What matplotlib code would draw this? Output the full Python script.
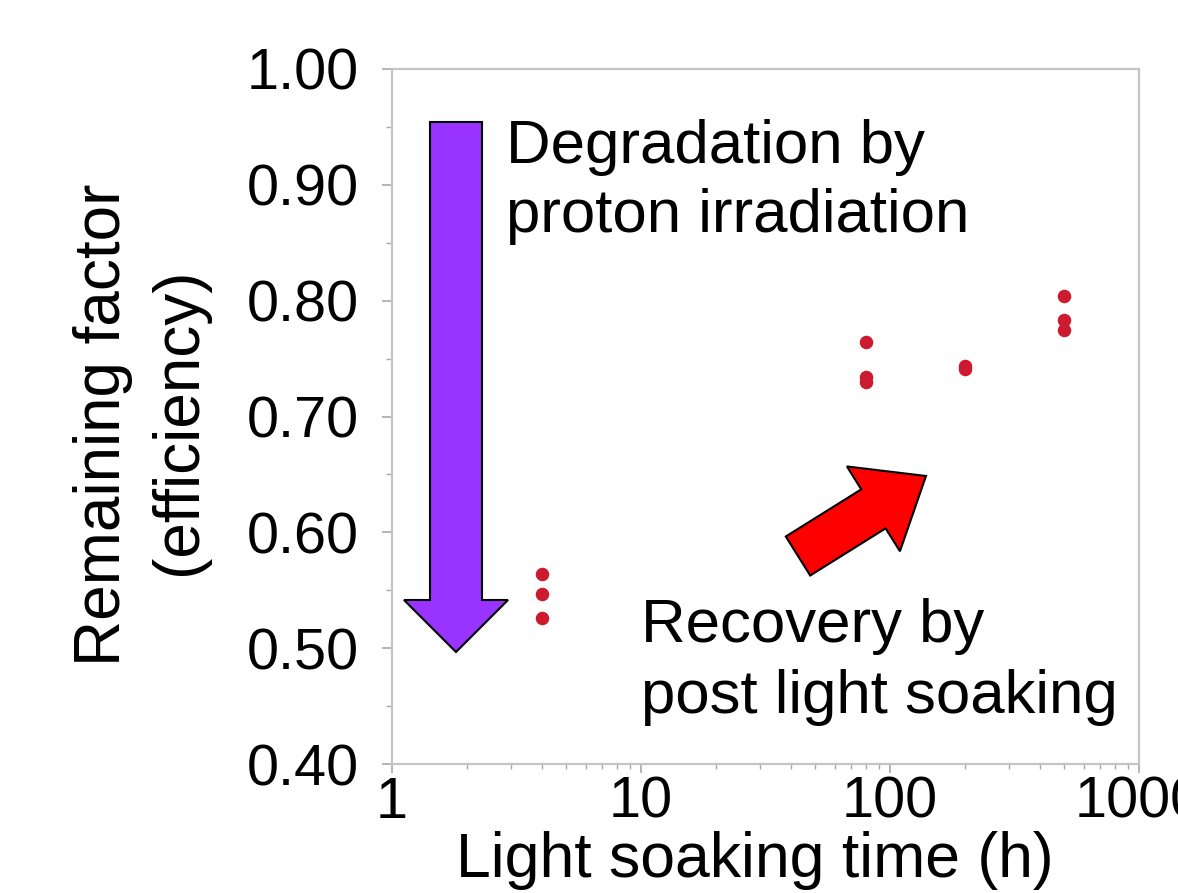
import matplotlib
matplotlib.use("Agg")
import matplotlib.pyplot as plt
from matplotlib.patches import FancyArrow, Polygon
from matplotlib.ticker import FixedLocator, NullFormatter, LogLocator
import numpy as np

plt.rcParams['font.family'] = ['Liberation Sans', 'DejaVu Sans']

time_h = [4, 4, 4, 80, 80, 80, 200, 200, 500, 500, 500]
remaining = [0.564, 0.547, 0.526, 0.764, 0.734, 0.730, 0.744, 0.741, 0.804, 0.783, 0.775]
xticks = [1, 10, 100, 1000]
xtick_labels = ["1", "10", "100", "1000"]
yticks = [0.40, 0.50, 0.60, 0.70, 0.80, 0.90, 1.00]
yminor = [0.45, 0.55, 0.65, 0.75, 0.85, 0.95]

W, H = 1178, 893
fig = plt.figure(figsize=(W/100, H/100), dpi=100)
ax = fig.add_axes([392/W, 1-764/H, (1139-392)/W, (764-69)/H])
ax.set_xscale('log')
ax.set_xlim(1, 1000)
ax.set_ylim(0.40, 1.00)

ax.scatter(time_h, remaining, s=95, color='#cc1b2e', zorder=3, linewidths=0)

for s in ax.spines.values():
    s.set_color('#c4c4c4')
    s.set_linewidth(1.6)

ax.set_xticks(xticks)
ax.set_xticklabels(xtick_labels)
ax.xaxis.set_minor_locator(LogLocator(base=10, subs=range(2, 10)))
ax.xaxis.set_minor_formatter(NullFormatter())
ax.set_yticks(yticks)
ax.set_yticklabels([f"{v:.2f}" for v in yticks])
ax.yaxis.set_minor_locator(FixedLocator(yminor))
ax.tick_params(axis='both', which='both', color='#a8a8a8', direction='out', labelsize=41.5)
ax.tick_params(axis='y', which='major', length=7.2, width=1.2, pad=17)
ax.tick_params(axis='y', which='minor', length=4.3, width=1.0)
ax.tick_params(axis='x', which='major', length=6.5, width=1.2, pad=2)
ax.tick_params(axis='x', which='minor', length=3.6, width=1.0)

ax.set_xlabel("Light soaking time (h)", fontsize=45)
ax.xaxis.label.set_verticalalignment('baseline')
ax.xaxis.set_label_coords((755-392)/(1139-392), (764-877)/(764-69))

# y-axis label, two lines placed at their baselines
fig.text(120/W, 1-425/H, "Remaining factor", fontsize=46, rotation=90,
         rotation_mode='anchor', ha='center', va='baseline')
fig.text(196/W, 1-421/H, "(efficiency)", fontsize=46, rotation=90,
         rotation_mode='anchor', ha='center', va='baseline')

def fp(x, y):
    return (x/W, 1 - y/H)

# purple arrow
x0, y0 = fp(456, 122)
x1, y1 = fp(456, 652)
fig.patches.append(FancyArrow(x0, y0, 0, y1 - y0, width=52/W, head_width=104/W,
                              head_length=52/H, length_includes_head=True,
                              transform=fig.transFigure, facecolor='#9933ff',
                              edgecolor='black', linewidth=1.5, zorder=5))

# red arrow
start = np.array([798.0, 556.0])
end = np.array([926.0, 476.0])
d = end - start
u = d / np.linalg.norm(d)
n = np.array([-u[1], u[0]])
bw, hw, hl = 23.0, 50.0, 62.0
p_base = end - u * hl
pts = [start + n*bw, p_base + n*bw, p_base + n*hw, end, p_base - n*hw, p_base - n*bw, start - n*bw]
fig.patches.append(Polygon([fp(*p) for p in pts], closed=True, transform=fig.transFigure,
                           facecolor='#ff0000', edgecolor='black', linewidth=1.5, zorder=5))

fig.text(506/W, 1-163/H, "Degradation by", fontsize=44.5, va='baseline', ha='left')
fig.text(506/W, 1-232/H, "proton irradiation", fontsize=44.5, va='baseline', ha='left')
fig.text(641/W, 1-642/H, "Recovery by", fontsize=44.5, va='baseline', ha='left')
fig.text(641/W, 1-713/H, "post light soaking", fontsize=44.5, va='baseline', ha='left')

fig.savefig("out.png", dpi=100)
